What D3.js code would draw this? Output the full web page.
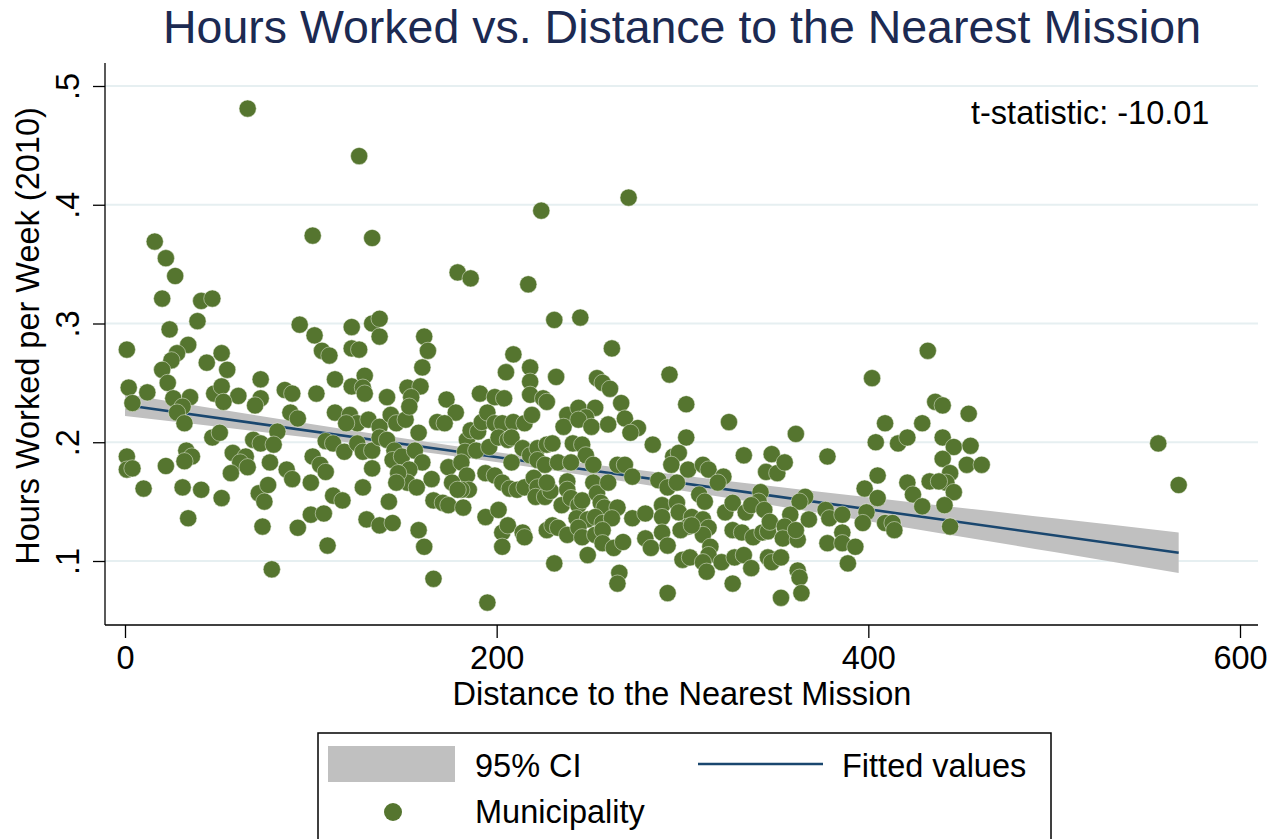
<!DOCTYPE html>
<html>
<head>
<meta charset="utf-8">
<script src="https://cdn.jsdelivr.net/npm/d3@7"></script>
<style>
  html, body { margin: 0; padding: 0; background: #ffffff; }
  svg { display: block; font-family: "Liberation Sans", Arial, Helvetica, sans-serif; }
</style>
</head>
<body>
<svg id="chart" width="1279" height="839"></svg>
<script>
// ---------------- DATA ----------------
const title = "Hours Worked vs. Distance to the Nearest Mission";
const xTitle = "Distance to the Nearest Mission";
const yTitle = "Hours Worked per Week (2010)";
const statLabel = "t-statistic: -10.01";
const xTicks = [0, 200, 400, 600];
const yTicks = [0.1, 0.2, 0.3, 0.4, 0.5];
const yTickLabels = [".1", ".2", ".3", ".4", ".5"];
const legendLabels = ["95% CI", "Fitted values", "Municipality"];

// Municipalities: distance to nearest mission
const distance = [
66,126,271,224,101,133,16,22,179,186,27,217,20,41,47,39,24,94,102,106,110,113,1,34,28,25,20,23,44,52,55,73,
2,12,26,35,48,52,61,73,86,90,103,4,31,28,53,70,32,113,89,93,47,51,69,73,82,80,108,112,1,1,4,22,33,36,32,
58,65,62,66,78,57,87,90,101,105,108,100,10,31,41,52,72,77,75,112,34,74,93,100,107,109,79,
231,122,133,137,137,161,163,122,126,129,122,128,129,160,152,159,154,141,173,191,199,204,209,205,218,218,232,218,225,
178,121,125,119,131,137,143,146,151,153,168,172,158,118,125,128,133,137,141,145,144,149,133,156,160,153,152,157,147,146,
165,174,184,183,181,186,190,192,195,199,203,209,215,219,189,196,201,206,208,214,208,218,222,227,230,222,
184,185,181,176,179,194,199,203,207,211,215,220,222,221,226,229,166,171,174,182,128,117,142,130,137,144,158,161,
194,201,203,206,214,215,203,227,230,231,166,195,
245,262,293,254,257,261,227,267,302,238,244,253,248,236,244,251,260,269,276,272,325,302,241,246,284,
248,333,348,226,233,240,252,265,269,273,295,298,294,303,311,314,322,319,287,292,297,345,351,342,341,
227,238,238,235,240,244,246,252,254,260,256,258,265,309,312,243,249,253,257,262,273,280,289,297,289,298,305,311,303,314,311,
323,327,334,337,233,238,244,246,253,257,327,332,338,343,346,280,283,289,292,299,305,315,314,249,257,263,268,
300,304,311,313,321,328,333,337,346,348,266,265,292,327,353,
432,402,436,440,454,409,429,404,416,421,440,446,455,361,440,453,461,378,355,405,444,442,421,424,429,433,438,398,405,446,441,
366,363,344,347,358,355,354,362,361,368,377,379,386,386,399,397,409,413,414,444,378,386,393,389,353,362,363,364,556,567
];
// Municipalities: hours worked per week (2010)
const hours = [
.481,.441,.406,.395,.374,.372,.369,.355,.343,.338,.340,.333,.321,.319,.321,.302,.295,.299,.290,.277,.273,.253,.278,.282,.275,.269,.261,.250,.267,.275,.261,.253,
.246,.242,.237,.238,.241,.247,.239,.237,.244,.241,.241,.233,.230,.225,.234,.231,.216,.225,.225,.220,.204,.208,.202,.199,.209,.198,.201,.199,.188,.177,.178,.180,.193,.188,.184,
.191,.188,.183,.179,.183,.174,.177,.169,.188,.181,.175,.166,.161,.162,.160,.153,.157,.164,.150,.155,.136,.129,.128,.139,.140,.113,.093,
.303,.297,.300,.304,.289,.289,.277,.279,.278,.256,.247,.246,.241,.263,.246,.247,.238,.238,.236,.241,.238,.237,.274,.259,.263,.251,.255,.240,.237,
.225,.223,.216,.216,.219,.213,.223,.216,.219,.230,.217,.216,.208,.192,.199,.192,.193,.204,.202,.193,.185,.188,.178,.193,.183,.177,.166,.162,.174,.166,
.169,.179,.202,.192,.183,.210,.209,.217,.225,.216,.216,.217,.216,.223,.193,.196,.204,.202,.204,.195,.183,.189,.195,.198,.199,.185,
.172,.160,.160,.166,.160,.174,.172,.166,.161,.160,.162,.170,.162,.154,.154,.159,.151,.149,.147,.145,.162,.151,.150,.135,.130,.132,.126,.112,
.137,.143,.124,.130,.124,.120,.112,.126,.130,.098,.085,.065,
.305,.279,.257,.254,.250,.245,.234,.233,.232,.223,.229,.229,.221,.213,.219,.213,.215,.220,.212,.208,.217,.204,.199,.198,.198,
.189,.189,.190,.181,.183,.183,.181,.181,.181,.171,.188,.191,.181,.177,.181,.177,.171,.166,.168,.162,.166,.175,.174,.158,.150,
.166,.167,.160,.147,.153,.147,.151,.166,.157,.166,.149,.145,.145,.156,.150,.136,.135,.137,.132,.136,.136,.140,.147,.149,.137,.141,.137,.135,.129,.128,.122,
.141,.149,.141,.147,.128,.122,.128,.120,.122,.126,.126,.124,.120,.124,.125,.119,.111,.124,.113,.126,.130,.112,.105,.105,.115,.111,.116,
.101,.103,.099,.091,.099,.103,.105,.094,.103,.099,.090,.081,.073,.081,.069,
.277,.254,.234,.231,.224,.216,.216,.200,.199,.204,.204,.196,.197,.207,.186,.181,.181,.188,.183,.172,.174,.166,.166,.156,.146,.167,.167,.161,.153,.158,.147,
.154,.150,.143,.133,.139,.129,.119,.118,.126,.135,.143,.136,.139,.124,.141,.132,.132,.132,.126,.129,.115,.115,.112,.098,.103,.092,.086,.073,.199,.164
];

// Fitted values and 95% CI
const fitX = [0, 567];
const fitY = [0.2314, 0.1069];
const ciX    = [0,      100,    190,    300,    400,    500,    567];
const ciLow  = [0.2221, 0.2037, 0.1855, 0.1592, 0.1335, 0.1075, 0.0899];
const ciHigh = [0.2407, 0.2153, 0.1939, 0.1720, 0.1537, 0.1359, 0.1239];

// ---------------- STYLE / LAYOUT ----------------
const plot = { left: 105, right: 1258, top: 63, bottom: 625 };
const green = "#55752f";
const navy = "#1a476f";
const ciGray = "#c0c0c0";
const gridColor = "#e6eff1";
const fontSize = 32.5;

const svg = d3.select("#chart");
svg.append("rect").attr("width", 1279).attr("height", 839).attr("fill", "#fff");

const x = d3.scaleLinear().domain([0, 600]).range([125, 1240]);
const y = d3.scaleLinear().domain([0.1, 0.5]).range([561, 86]);

// gridlines
svg.append("g").selectAll("line").data(yTicks).join("line")
  .attr("x1", plot.left).attr("x2", plot.right)
  .attr("y1", d => y(d)).attr("y2", d => y(d))
  .attr("stroke", gridColor).attr("stroke-width", 2.2);

// CI band
const ciData = ciX.map((d, i) => ({ x: d, lo: ciLow[i], hi: ciHigh[i] }));
svg.append("path").datum(ciData)
  .attr("d", d3.area().x(d => x(d.x)).y0(d => y(d.lo)).y1(d => y(d.hi)).curve(d3.curveMonotoneX))
  .attr("fill", ciGray);

// fitted line
svg.append("path").datum(fitX.map((d, i) => ({ x: d, y: fitY[i] })))
  .attr("d", d3.line().x(d => x(d.x)).y(d => y(d.y)))
  .attr("fill", "none").attr("stroke", navy).attr("stroke-width", 2.6);

// points
const pts = distance.map((d, i) => ({ x: d, y: hours[i] }));
svg.append("g").selectAll("circle").data(pts).join("circle")
  .attr("cx", d => x(d.x)).attr("cy", d => y(d.y)).attr("r", 8.6)
  .attr("fill", green).attr("stroke", "#eef3e6").attr("stroke-width", 0.7).attr("stroke-opacity", 0.7);

// axes lines
svg.append("line").attr("x1", plot.left).attr("x2", plot.left)
  .attr("y1", plot.top).attr("y2", plot.bottom).attr("stroke", "#000").attr("stroke-width", 1.3);
svg.append("line").attr("x1", plot.left).attr("x2", plot.right)
  .attr("y1", plot.bottom).attr("y2", plot.bottom).attr("stroke", "#000").attr("stroke-width", 1.3);

// x axis
const xAxis = svg.append("g").attr("transform", `translate(0,${plot.bottom})`)
  .call(d3.axisBottom(x).tickValues(xTicks).tickSize(13).tickSizeOuter(0).tickPadding(6).tickFormat(d3.format("d")));
xAxis.select(".domain").remove();
xAxis.selectAll("line").attr("stroke", "#000").attr("stroke-width", 1.3);
xAxis.selectAll("text").attr("y", 44).attr("dy", 0)
  .attr("font-size", fontSize).attr("fill", "#000").attr("font-family", "Liberation Sans, Arial, sans-serif");

// y axis
const yAxis = svg.append("g").attr("transform", `translate(${plot.left},0)`)
  .call(d3.axisLeft(y).tickValues(yTicks).tickSize(12).tickSizeOuter(0).tickFormat((d, i) => yTickLabels[i]));
yAxis.select(".domain").remove();
yAxis.selectAll("line").attr("stroke", "#000").attr("stroke-width", 1.3);
yAxis.selectAll("text")
  .attr("x", null).attr("y", null).attr("dy", null)
  .attr("transform", "translate(-26,0) rotate(-90)")
  .attr("text-anchor", "middle")
  .attr("font-size", fontSize).attr("fill", "#000").attr("font-family", "Liberation Sans, Arial, sans-serif");

// titles
svg.append("text").attr("x", 682).attr("y", 43).attr("text-anchor", "middle")
  .attr("font-size", 46.5).attr("fill", "#1c2a52").text(title);
svg.append("text").attr("x", 682).attr("y", 705).attr("text-anchor", "middle")
  .attr("font-size", fontSize).attr("fill", "#000").text(xTitle);
svg.append("text").attr("transform", "translate(39,336) rotate(-90)").attr("text-anchor", "middle")
  .attr("font-size", fontSize).attr("fill", "#000").text(yTitle);
svg.append("text").attr("x", 971).attr("y", 124)
  .attr("font-size", fontSize).attr("fill", "#000").text(statLabel);

// legend
const lg = svg.append("g");
lg.append("rect").attr("x", 318).attr("y", 733).attr("width", 733).attr("height", 120)
  .attr("fill", "#fff").attr("stroke", "#000").attr("stroke-width", 1.5);
lg.append("rect").attr("x", 328).attr("y", 746).attr("width", 127).attr("height", 36).attr("fill", ciGray);
lg.append("text").attr("x", 475).attr("y", 777).attr("font-size", fontSize).attr("fill", "#000").text(legendLabels[0]);
lg.append("line").attr("x1", 698).attr("x2", 823).attr("y1", 764).attr("y2", 764)
  .attr("stroke", navy).attr("stroke-width", 2.6);
lg.append("text").attr("x", 842).attr("y", 777).attr("font-size", fontSize).attr("fill", "#000").text(legendLabels[1]);
lg.append("circle").attr("cx", 393).attr("cy", 812).attr("r", 9).attr("fill", green);
lg.append("text").attr("x", 475).attr("y", 823).attr("font-size", fontSize).attr("fill", "#000").text(legendLabels[2]);
</script>
</body>
</html>
